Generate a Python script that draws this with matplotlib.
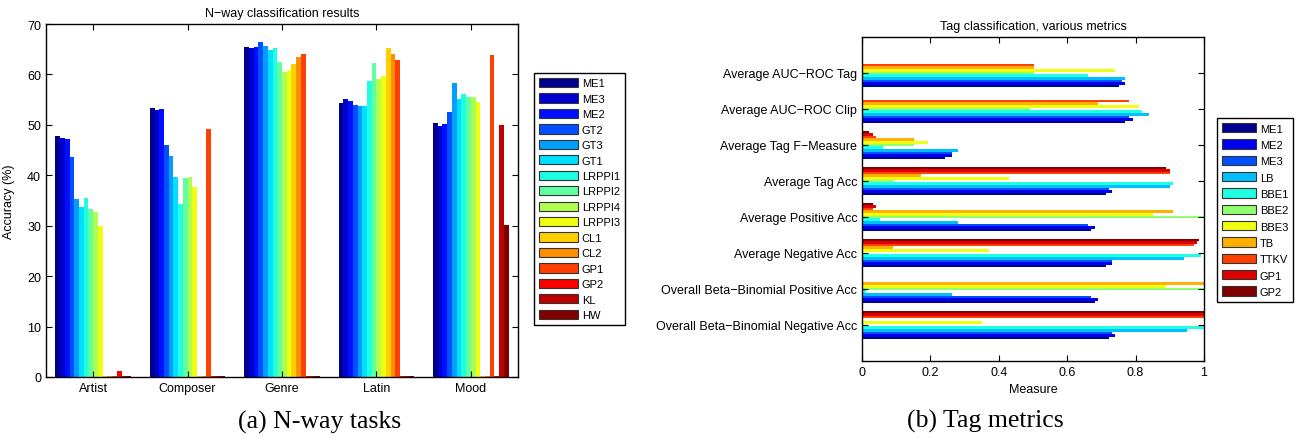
import numpy as np
import matplotlib
matplotlib.use("Agg")
import matplotlib.pyplot as plt

plt.rcParams['font.family'] = ['Liberation Sans', 'DejaVu Sans']

# (a) N-way tasks
groups = ["Artist", "Composer", "Genre", "Latin", "Mood"]
nway_methods = ["ME1", "ME3", "ME2", "GT2", "GT3", "GT1", "LRPPI1", "LRPPI2",
                "LRPPI4", "LRPPI3", "CL1", "CL2", "GP1", "GP2", "KL", "HW"]
artist = [47.8, 47.4, 47.2, 43.6, 35.3, 33.7, 35.5, 33.3, 32.7, 30.0, 0.2, 0.2, 0.2, 1.1, 0.2, 0.2]
composer = [53.4, 53.0, 53.2, 46.0, 43.8, 39.7, 34.3, 39.5, 39.7, 37.7, 0.2, 0.2, 49.2, 0.2, 0.2, 0.2]
genre = [65.5, 65.3, 65.5, 66.4, 65.7, 64.9, 65.3, 62.5, 60.5, 60.9, 62.1, 63.5, 64.1, 0.2, 0.2, 0.2]
latin = [54.4, 55.1, 54.8, 54.0, 53.8, 53.8, 58.7, 62.3, 59.1, 59.7, 65.3, 64.1, 62.9, 0.2, 0.2, 0.2]
mood = [50.4, 49.8, 50.2, 52.6, 58.3, 55.2, 56.2, 55.6, 55.6, 54.6, 0.2, 0.2, 63.9, 0.2, 49.9, 30.1]

# (b) Tag metrics, categories from bottom to top
metrics = ["Overall Beta\u2212Binomial Negative Acc", "Overall Beta\u2212Binomial Positive Acc",
           "Average Negative Acc", "Average Positive Acc", "Average Tag Acc",
           "Average Tag F\u2212Measure", "Average AUC\u2212ROC Clip", "Average AUC\u2212ROC Tag"]
tag_methods = ["ME1", "ME2", "ME3", "LB", "BBE1", "BBE2", "BBE3", "TB", "TTKV", "GP1", "GP2"]
bb_neg = [0.721, 0.741, 0.732, 0.950, 1.0, 0.0, 0.351, 0.0, 1.0, 1.0, 1.0]
bb_pos = [0.680, 0.691, 0.671, 0.262, 0.011, 1.0, 0.890, 1.0, 0.0, 0.002, 0.002]
neg_acc = [0.712, 0.732, 0.732, 0.942, 0.991, 0.0, 0.371, 0.091, 0.971, 0.980, 0.985]
pos_acc = [0.671, 0.680, 0.662, 0.280, 0.054, 1.0, 0.852, 0.910, 0.032, 0.041, 0.032]
tag_acc = [0.712, 0.732, 0.721, 0.902, 0.910, 0.091, 0.431, 0.173, 0.902, 0.902, 0.890]
f_measure = [0.243, 0.262, 0.262, 0.280, 0.061, 0.152, 0.193, 0.152, 0.041, 0.032, 0.020]
auc_clip = [0.769, 0.791, 0.782, 0.840, 0.820, 0.490, 0.811, 0.691, 0.782, 0.003, 0.0]
auc_tag = [0.750, 0.769, 0.761, 0.769, 0.662, 0.502, 0.741, 0.502, 0.502, 0.003, 0.0]


def matlab_jet(m=64):
    n = int(np.ceil(m / 4))
    u = np.r_[np.arange(1, n + 1) / n, np.ones(n - 1), np.arange(n, 0, -1) / n]
    g = int(np.ceil(n / 2)) - (1 if m % 4 == 1 else 0) + np.arange(1, len(u) + 1)
    J = np.zeros((m, 3))
    for col, idx in ((0, g + n), (1, g), (2, g - n)):
        ok = (idx >= 1) & (idx <= m)
        J[idx[ok] - 1, col] = u[ok]
    return J


def series_colors(k):
    J = matlab_jet(64)
    idx = [min(int(np.floor(j / (k - 1) * 64)), 63) for j in range(k)]
    return J[idx]


def matlab_box(ax):
    for s in ax.spines.values():
        s.set_linewidth(1.0)
        s.set_color('black')
    ax.tick_params(direction='in', top=True, right=True, length=4,
                   labelsize=9, colors='black')


def boxed_legend(ax, x, y, hlen, spacing):
    leg = ax.legend(loc='center left', bbox_to_anchor=(x, y),
                    bbox_transform=ax.figure.transFigure, borderaxespad=0,
                    fancybox=False, edgecolor='black', framealpha=1,
                    fontsize=8, handlelength=hlen, handleheight=0.9,
                    handletextpad=0.35, labelspacing=spacing, borderpad=0.45)
    leg.get_frame().set_linewidth(1.0)
    for p in leg.get_patches():
        p.set_edgecolor('#333333')
        p.set_linewidth(0.8)
    return leg


fig = plt.figure(figsize=(13.02, 4.39), dpi=100)
W, H = 1302.0, 439.0

# ---- left chart
ax1 = fig.add_axes([46 / W, 1 - 378 / H, 472 / W, 353 / H])
vals = np.array([artist, composer, genre, latin, mood])
ns = len(nway_methods)
cols = series_colors(ns)
bw = 0.8 / ns
x = np.arange(1, len(groups) + 1)
for i in range(ns):
    ax1.bar(x - 0.4 + (i + 0.5) * bw, vals[:, i], bw, color=cols[i],
            edgecolor='none', label=nway_methods[i])
ax1.set_xlim(0.5, 5.5)
ax1.set_ylim(0, 70)
ax1.set_xticks(x)
ax1.set_xticklabels(groups)
ax1.set_yticks(range(0, 71, 10))
ax1.set_ylabel("Accuracy (%)", fontsize=9)
ax1.yaxis.set_label_coords(-0.066, 0.5)
ax1.set_title("N\u2212way classification results", fontsize=9)
matlab_box(ax1)
boxed_legend(ax1, 534 / W, 1 - 200 / H, 3.5, 0.45)

# ---- right chart
ax2 = fig.add_axes([862 / W, 1 - 362 / H, 342 / W, 324 / H])
tvals = np.array([bb_neg, bb_pos, neg_acc, pos_acc, tag_acc, f_measure, auc_clip, auc_tag])
nt = len(tag_methods)
tcols = series_colors(nt)
bh = 0.8 / nt
y = np.arange(1, len(metrics) + 1)
for i in range(nt):
    ax2.barh(y - 0.4 + (i + 0.5) * bh, tvals[:, i], bh, color=tcols[i],
             edgecolor='none', label=tag_methods[i])
ax2.set_xlim(0, 1)
ax2.set_ylim(0, 9)
ax2.set_yticks(y)
ax2.set_yticklabels(metrics)
ax2.set_xticks([0, 0.2, 0.4, 0.6, 0.8, 1])
ax2.set_xticklabels(["0", "0.2", "0.4", "0.6", "0.8", "1"])
ax2.set_xlabel("Measure", fontsize=9)
ax2.set_title("Tag classification, various metrics", fontsize=9)
matlab_box(ax2)
boxed_legend(ax2, 1217 / W, 1 - 211 / H, 3.06, 0.53)

# captions
fig.text(320 / W, 1 - 422 / H, "(a) N-way tasks", ha='center', va='center',
         fontsize=18.5, family='Liberation Serif')
fig.text(985 / W, 1 - 421 / H, "(b) Tag metrics", ha='center', va='center',
         fontsize=18.5, family='Liberation Serif')

fig.savefig("out.png", dpi=100)
